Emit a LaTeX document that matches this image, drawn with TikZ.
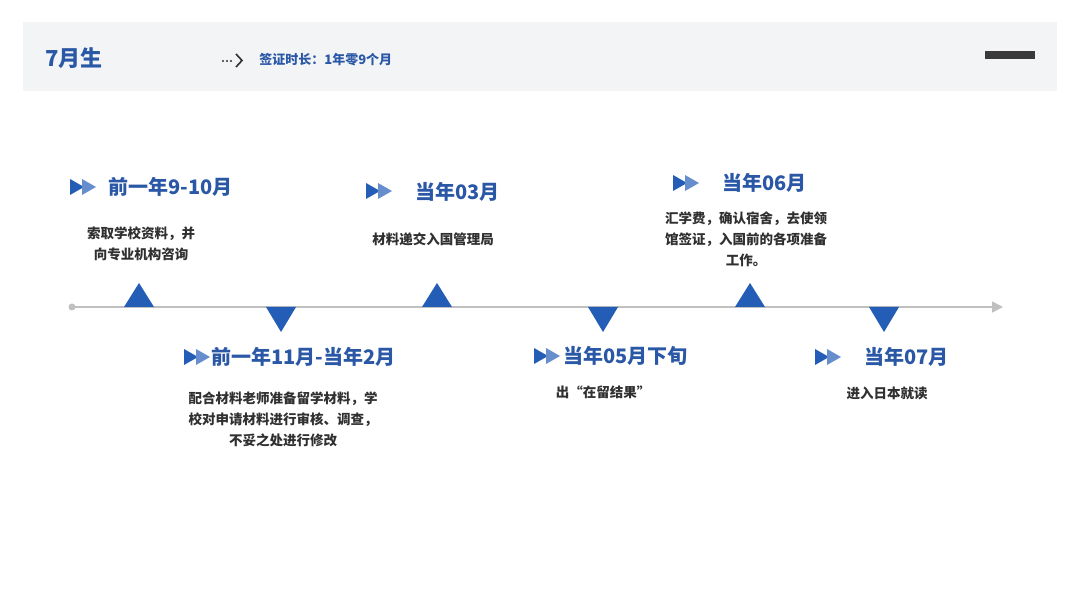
\documentclass[tikz,border=0pt]{standalone}
\usepackage{fontspec}
\setmainfont{Noto Sans CJK SC}
\usetikzlibrary{arrows.meta}
\definecolor{tlblue}{RGB}{36,93,182}
\definecolor{tltitle}{RGB}{42,88,166}
\definecolor{tltext}{RGB}{48,48,48}
\definecolor{bandgray}{RGB}{243,244,246}
\definecolor{axisgray}{RGB}{192,192,192}
\definecolor{darkbar}{RGB}{58,58,60}
\tikzset{
  title/.style={font=\fontsize{10}{12}\selectfont\bfseries,text=tltitle,anchor=west,inner sep=0pt},
  body/.style={font=\fontsize{6.75}{10.5}\selectfont\bfseries,text=tltext,align=center,inner sep=0pt},
  pics/ffwd/.style={code={
    \fill[tlblue] (-13,-8)--(1,0)--(-13,8)--cycle;
    \fill[tlblue!70] (-1,-8)--(13,0)--(-1,8)--cycle;}}
}

\begin{document}
\begin{tikzpicture}[>=Latex,x=0.5pt,y=-0.5pt]
  \useasboundingbox[fill=white] (0,0) rectangle (1080,608);
  % header band
  \fill[bandgray] (23,22) rectangle (1057,91);
  \fill[darkbar] (985,51) rectangle (1035,59);
  \node[anchor=west,inner sep=0pt,text=tltitle,font=\fontsize{11}{13}\selectfont\bfseries] (head) at (45,58) {7月生};
  \foreach \d in {223,227,231} \fill[tltext] (\d,61) circle (1.1);
  \draw[tltext,line width=0.8pt] (236,54)--(242,60.5)--(236,67);
  \node[anchor=west,inner sep=0pt,text=tltitle,font=\fontsize{6.5}{8}\selectfont\bfseries] (visa) at (259,60) {签证时长：1年零9个月};
  % timeline
  \coordinate (axisL) at (72,307);
  \coordinate (axisR) at (1003,307);
  \draw[axisgray,line width=0.8pt,-{Triangle[length=5.5pt,width=5.5pt]}] (axisL)--(axisR);
  \fill[axisgray] (axisL) circle (3.5);
  \foreach \x in {139,437,750}
    \fill[tlblue] (\x-15,307)--(\x,283)--(\x+15,307)--cycle;
  \foreach \x in {281,603,884}
    \fill[tlblue] (\x-15,307)--(\x,332)--(\x+15,307)--cycle;
  % steps above
  \pic at (83,187) {ffwd};
  \node[title] (t1) at (108,187) {前一年9-10月};
  \node[body] (b1) at (141,243.5) {索取学校资料，并\\向专业机构咨询};
  \pic at (379,191) {ffwd};
  \node[title] (t3) at (415,192) {当年03月};
  \node[body] (b3) at (433,239) {材料递交入国管理局};
  \pic at (686,183) {ffwd};
  \node[title] (t5) at (722,183) {当年06月};
  \node[body] (b5) at (746,239) {汇学费，确认宿舍，去使领\\馆签证，入国前的各项准备\\工作。};
  % steps below
  \pic at (197,357) {ffwd};
  \node[title] (t2) at (211,357) {前一年11月-当年2月};
  \node[body] (b2) at (283,419) {配合材料老师准备留学材料，学\\校对申请材料进行审核、调查，\\不妥之处进行修改};
  \pic at (547,356) {ffwd};
  \node[title] (t4) at (563,356) {当年05月下旬};
  \node[body] (b4) at (603,392) {出“在留结果”};
  \pic at (828,357) {ffwd};
  \node[title] (t6) at (864,357) {当年07月};
  \node[body] (b6) at (887,393) {进入日本就读};
\end{tikzpicture}
\end{document}
